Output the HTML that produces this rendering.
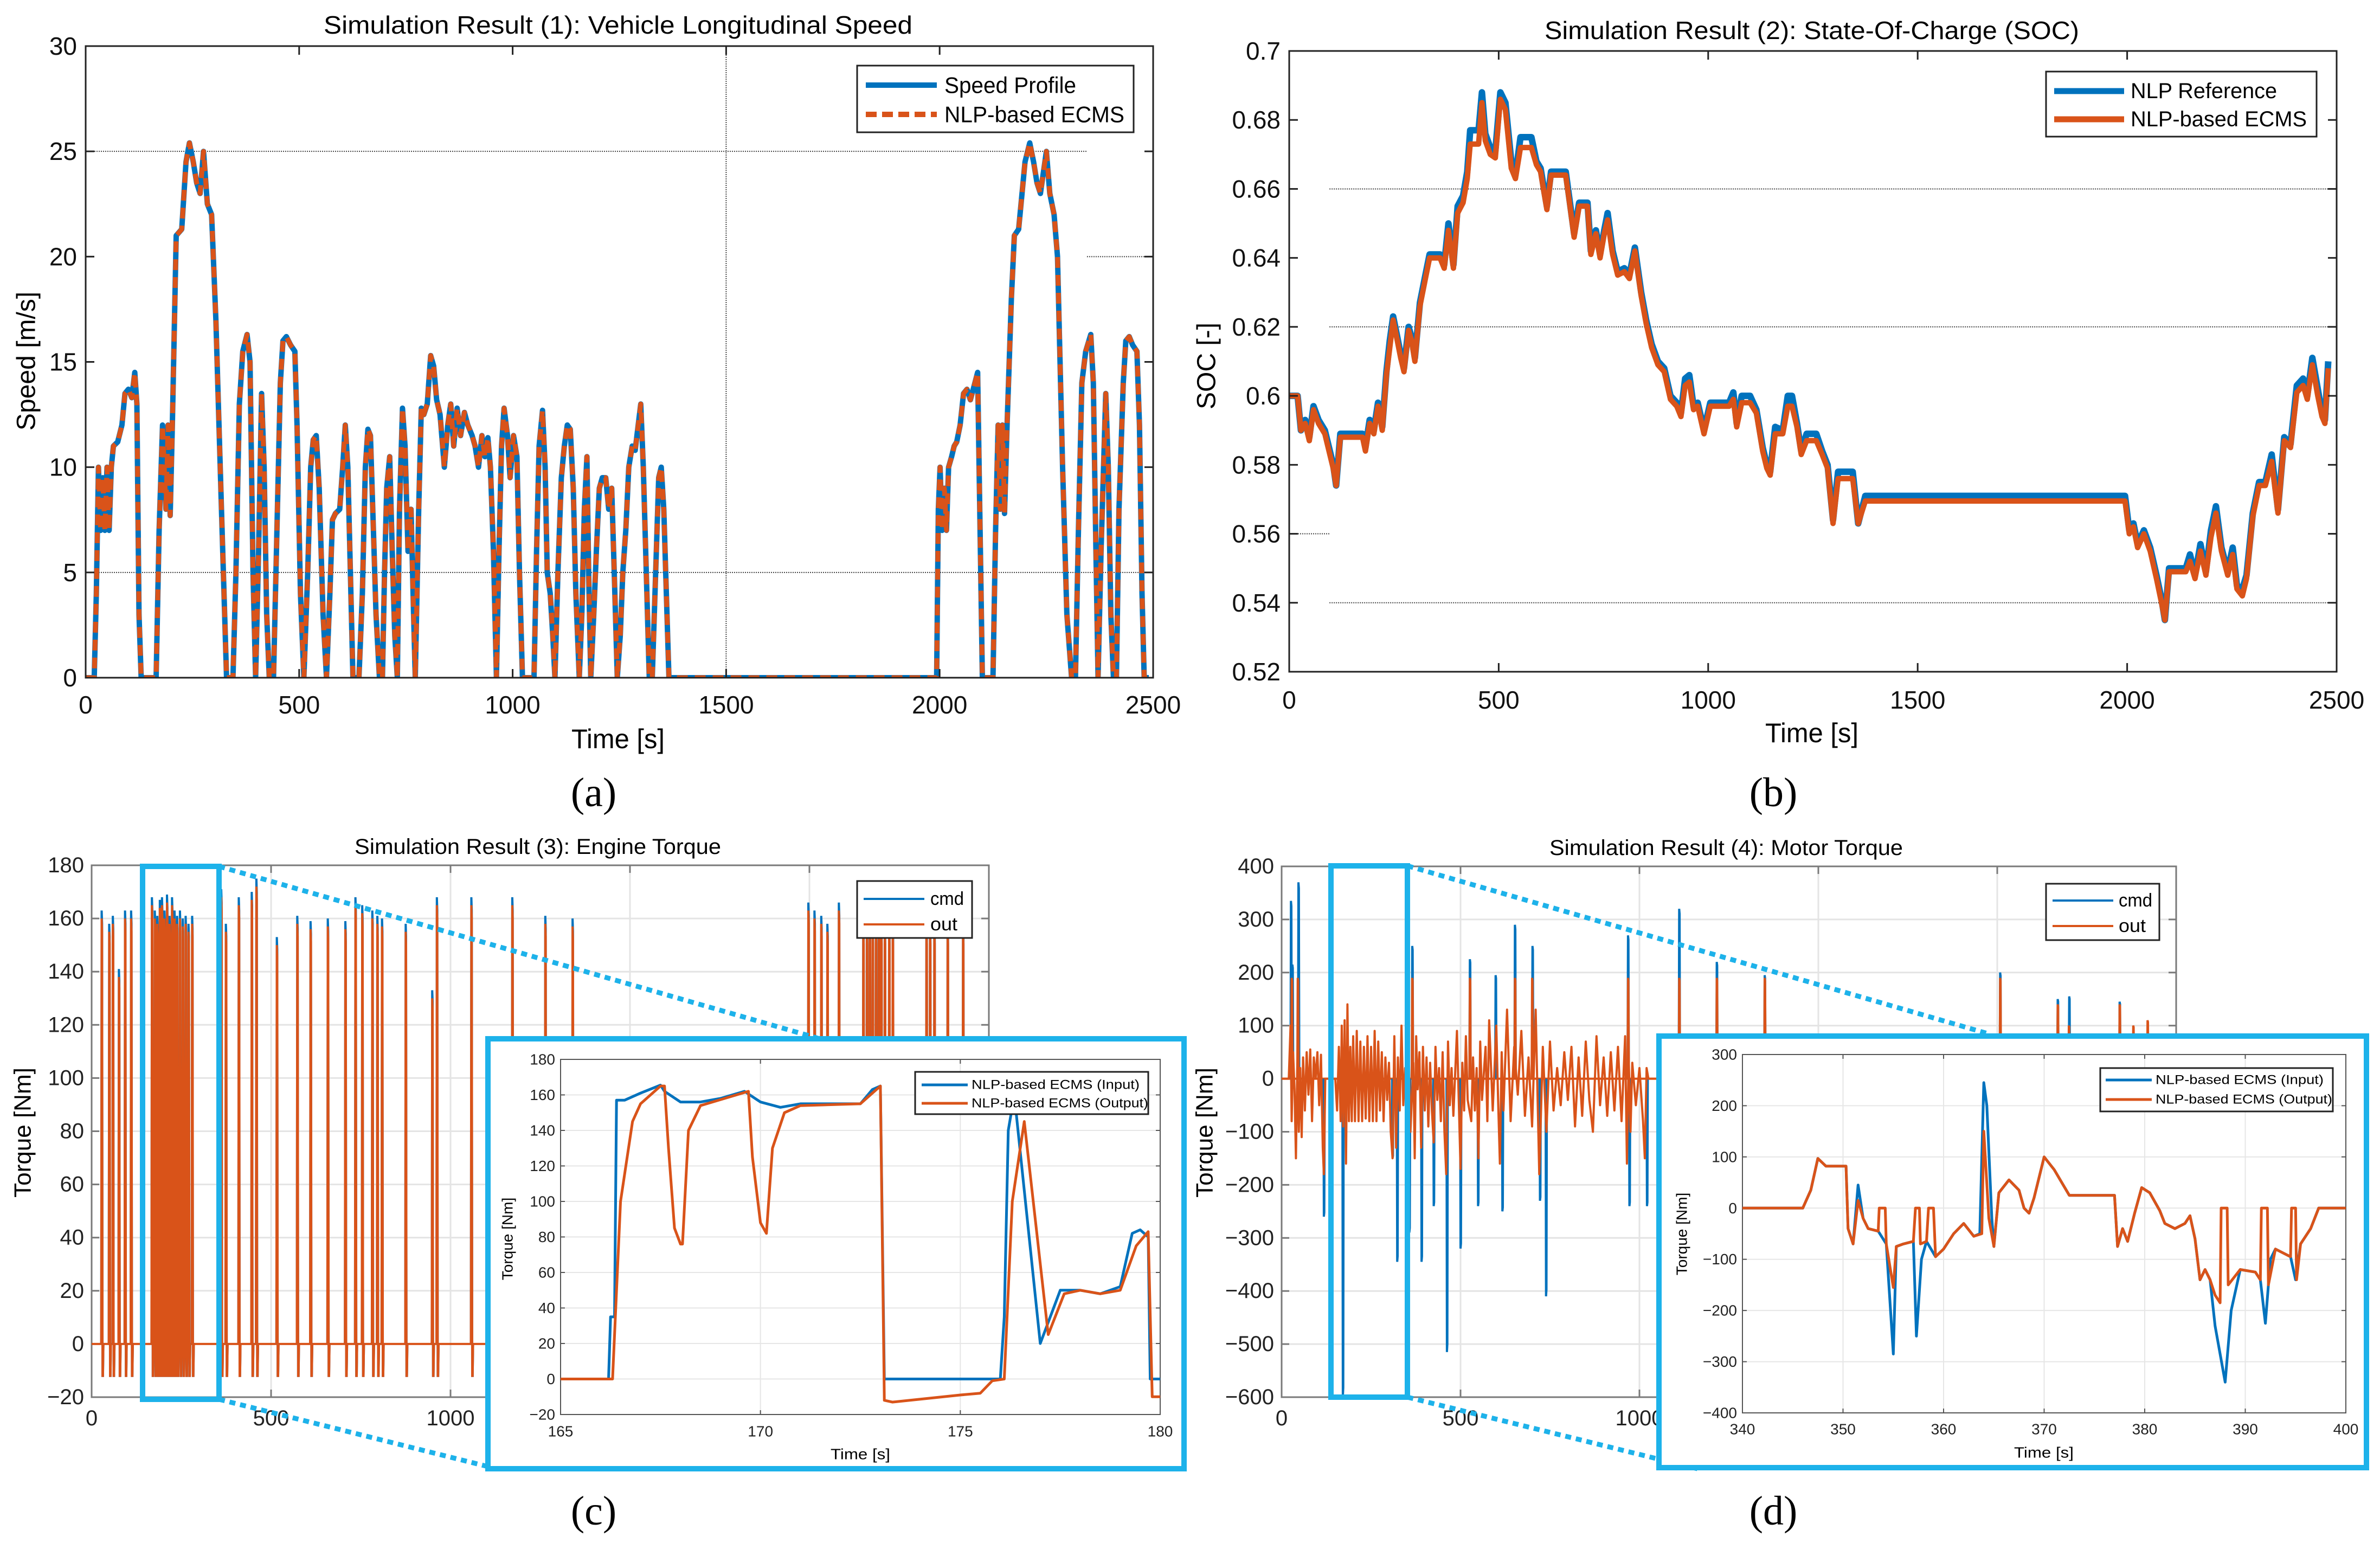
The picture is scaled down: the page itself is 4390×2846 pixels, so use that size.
<!DOCTYPE html>
<html><head><meta charset="utf-8"><title>Simulation results</title>
<style>
html,body{margin:0;padding:0;background:#fff;}
svg{display:block;}
text{font-family:"Liberation Sans",sans-serif;}
.serif{font-family:"Liberation Serif",serif;}
</style></head>
<body>
<svg id="fig" xmlns="http://www.w3.org/2000/svg" width="4390" height="2846" viewBox="0 0 4390 2846">
<rect x="0" y="0" width="4390" height="2846" fill="#fff"/>
<defs>
<clipPath id="clipA"><rect x="158" y="85" width="1969" height="1165"/></clipPath>
<clipPath id="clipB"><rect x="2378" y="94" width="1932" height="1145"/></clipPath>
<clipPath id="clipC"><rect x="169" y="1596" width="1655" height="981"/></clipPath>
<clipPath id="clipD"><rect x="2364" y="1598" width="1650" height="979"/></clipPath>
<clipPath id="clipCi"><rect x="1034" y="1954" width="1106" height="655"/></clipPath>
<clipPath id="clipDi"><rect x="3214" y="1945" width="1113" height="661"/></clipPath>
</defs>
</svg>
<script>
// ===== Panel (a): vehicle speed =====
const speedT=[0,20,25,30,35,40,45,50,55,60,
65,75,85,92,100,108,115,120,125,130,
165,172,180,188,193,198,203,212,225,235,
243,252,260,268,276,285,295,305,318,330,
345,352,360,368,378,385,392,398,405,412,
418,424,430,440,448,456,462,470,480,490,
495,503,511,520,527,533,540,547,556,564,
572,578,585,595,602,608,614,620,626,640,
648,655,661,667,674,680,688,695,700,705,
712,718,724,730,735,742,748,755,762,768,
772,780,786,792,800,808,815,822,830,840,
848,855,862,870,878,887,895,905,912,920,
928,935,942,948,955,962,968,974,980,988,
994,1002,1010,1016,1023,1050,1056,1062,1070,1076,
1081,1088,1094,1099,1106,1114,1121,1128,1135,1142,
1148,1156,1162,1168,1174,1178,1183,1190,1196,1203,
1210,1218,1225,1232,1238,1245,1252,1258,1265,1272,
1280,1287,1294,1300,1306,1313,1320,1327,1335,1342,
1348,1354,1360,1366,1993,1997,2001,2006,2011,2016,
2021,2028,2034,2040,2048,2056,2064,2072,2080,2089,
2094,2100,2125,2131,2137,2142,2147,2152,2158,2168,
2175,2185,2200,2211,2220,2228,2236,2250,2258,2268,
2276,2288,2298,2309,2318,2325,2333,2342,2354,2360,
2366,2371,2378,2389,2395,2401,2407,2414,2420,2430,
2436,2444,2452,2462,2468,2474,2479,2490];
const speedV=[0,0,4,10,7,9.5,7,10,7,10,
11,11.2,12,13.5,13.7,13.3,14.5,13,3,0,
0,7,12,8,12,7.7,12,21,21.3,24.5,
25.4,24.5,23.5,23,25,22.5,22,17,8,0,
0,5,13,15.5,16.3,15,5,0,6,13.5,
10,3,0,0,7,14,16,16.2,15.8,15.5,
12,4,0,5,10,11.3,11.5,9,3,0,
4,7.5,7.8,8,10,12,10,5,0,0,
4,10,11.8,11.5,7,3,0,0,5,9,
10.5,6,2,0,8,12.8,11,6,8,3,
0,8,12.8,12.5,13,15.3,14.8,13.2,12.5,10,
12,13,11,12.8,11.5,12.6,12,11.5,11,10,
11.5,10.5,11.4,10,6,0,6,11,12.8,11.5,
9.5,11.5,10.5,5,0,0,6,11,12.7,10,
5,4,2,0,5,9.5,11,12,11.8,9,
4,0,3,8,10.5,5,0,3,6,9,
9.5,9.5,8,9,5,0,2,5,7,10,
11,10.8,12,13,10,5,0,0,5,9.5,
10,8,4,0,0,8,10,7,9,7,
10,10.5,11,11.2,12,13.5,13.7,13.2,13.8,14.5,
8,0,0,7,12,8,12,7.8,12,18,
21,21.3,24.5,25.4,24.5,23.5,23,25,23,22,
20,10,3,0,0,7,14,15.5,16.3,14,
6,0,6,13.5,10,3,0,0,8,14,
16,16.2,15.8,15.5,12,4,0,0];
const ecmsSpeedV=speedV.slice();
const speedXTicks=[0,500,1000,1500,2000,2500];
const speedYTicks=[0,5,10,15,20,25,30];

// ===== Panel (b): SOC =====
const socT=[0,20,28,38,48,58,70,85,95,105,
112,122,150,175,182,192,202,212,222,232,
240,248,258,266,274,285,292,300,312,325,
335,360,370,380,392,402,415,425,432,452,
460,468,480,492,504,516,530,540,552,578,
590,600,608,615,625,660,670,680,692,712,
720,732,742,752,760,772,784,800,812,825,
840,852,865,880,895,910,925,935,945,955,
965,975,990,1005,1050,1060,1068,1080,1100,1115,
1130,1140,1148,1160,1178,1190,1200,1212,1222,1235,
1258,1272,1285,1298,1310,1345,1358,1375,1995,2005,
2015,2025,2040,2055,2070,2082,2090,2100,2140,2150,
2162,2175,2188,2200,2212,2225,2240,2252,2262,2275,
2285,2300,2315,2330,2345,2360,2375,2390,2405,2420,
2430,2442,2455,2465,2472,2480];
const socRefV=[.600,.600,.590,.593,.588,.597,.593,.590,.585,.580,
.574,.589,.589,.589,.585,.593,.590,.598,.591,.607,
.616,.623,.617,.612,.608,.620,.617,.611,.627,.635,
.641,.641,.638,.650,.638,.655,.658,.665,.677,.677,
.688,.676,.672,.671,.688,.685,.668,.664,.675,.675,
.668,.666,.660,.655,.665,.665,.656,.647,.656,.656,
.642,.648,.641,.648,.653,.642,.636,.637,.635,.643,
.630,.622,.615,.610,.608,.600,.598,.595,.605,.606,
.597,.598,.590,.598,.598,.601,.592,.600,.600,.596,
.585,.580,.578,.591,.590,.600,.600,.592,.584,.589,
.589,.584,.580,.564,.578,.578,.563,.571,.571,.561,
.563,.557,.561,.556,.548,.541,.535,.550,.550,.554,
.548,.557,.549,.561,.568,.556,.549,.556,.545,.544,
.548,.566,.575,.575,.583,.567,.588,.586,.603,.605,
.600,.611,.602,.595,.593,.610];
const socEcmsV=[.600,.600,.590,.592,.587,.596,.592,.589,.584,.579,
.574,.588,.588,.588,.584,.592,.589,.597,.590,.606,
.614,.622,.616,.611,.607,.619,.616,.610,.626,.634,
.640,.640,.637,.648,.637,.653,.656,.663,.673,.673,
.685,.674,.670,.669,.686,.683,.666,.663,.672,.672,
.667,.665,.659,.654,.664,.664,.655,.646,.655,.655,
.641,.647,.640,.647,.651,.641,.635,.636,.634,.642,
.629,.621,.614,.609,.607,.599,.597,.594,.603,.604,
.596,.597,.589,.597,.597,.599,.591,.598,.598,.595,
.584,.579,.577,.589,.589,.597,.597,.591,.583,.587,
.587,.583,.579,.563,.576,.576,.563,.5695,.5695,.560,
.562,.556,.560,.555,.547,.540,.535,.549,.549,.552,
.547,.555,.548,.559,.566,.555,.548,.554,.544,.542,
.547,.565,.574,.574,.581,.566,.587,.585,.601,.603,
.599,.609,.600,.594,.592,.608];
const socXTicks=[0,500,1000,1500,2000,2500];
const socYTicks=[0.52,0.54,0.56,0.58,0.6,0.62,0.64,0.66,0.68,0.7];
const socYLabels=["0.52","0.54","0.56","0.58","0.6","0.62","0.64","0.66","0.68","0.7"];

// ===== Panel (c): engine torque =====
const engSpikeT=[28,49,59,76,93,110,168,176,183,190,196,203,210,217,224,231,238,246,254,262,270,280,361,374,410,446,459,516,573,610,658,707,735,754,782,796,809,875,949,962,1058,1172,1264,1340,1997,2014,2033,2050,2082,2150,2160,2168,2176,2185,2193,2200,2210,2222,2232,2326,2336,2348,2385,2428];
const engSpikeH=[160,155,158,138,160,160,165,160,158,164,165,160,166,158,165,160,158,160,157,158,155,158,168,155,165,167,172,150,158,156,157,156,165,162,160,158,157,155,130,165,165,165,158,157,163,160,158,155,163,155,155,155,155,155,155,155,155,155,155,155,155,155,155,155];
const engXTicks=[0,500,1000,1500,2000,2500];
const engYTicks=[-20,0,20,40,60,80,100,120,140,160,180];
const engInT=[165,166.2,166.25,166.35,166.4,166.6,167,167.5,167.6,168,168.5,169,169.6,170,170.5,171,172,172.5,172.8,173,173.1,176,176.1,176.2,176.35,177,177.5,178,178.5,179,179.3,179.5,179.7,179.75,180];
const engInV=[0,0,35,35,157,157,161,165.5,162,156,156,158,162,156,153,155,155,155,163,165,0,0,35,140,160,20,50,50,48,52,82,84,80,0,0];
const engOutT=[165,166.3,166.5,166.8,167,167.5,167.6,167.7,167.85,168,168.05,168.2,168.5,169.7,169.8,170,170.15,170.3,170.6,171,172.5,173,173.1,173.3,175,175.5,175.8,176.1,176.3,176.6,177.2,177.6,178,178.5,179,179.4,179.7,179.8,180];
const engOutV=[0,0,100,145,155,165,165,130,85,76,76,140,154,162,125,88,82,130,150,154,155,165,-12,-13,-9,-8,-1,0,100,145,25,48,50,48,50,75,83,-10,-10];
const engInsetXTicks=[165,170,175,180];
const engInsetYTicks=[-20,0,20,40,60,80,100,120,140,160,180];

// ===== Panel (d): motor torque =====
const motorT=[0,20,25,28,32,36,40,44,48,52,56,60,65,70,75,80,85,90,95,100,105,110,115,118,122,130,150,155,160,165,168,172,176,180,184,188,192,196,200,205,210,215,220,225,230,235,240,245,250,255,260,265,270,275,280,285,290,295,300,305,310,315,320,325,330,335,340,345,350,355,360,368,372,376,380,385,390,395,400,405,410,415,420,425,430,435,440,445,450,455,460,465,470,475,480,490,495,500,505,510,515,520,530,535,540,545,550,555,560,570,575,580,590,600,605,610,615,620,630,640,650,660,670,680,690,700,710,720,730,740,750,760,770,780,790,800,810,820,830,840,850,860,870,880,890,900,910,920,930,940,950,960,965,970,975,980,990,1000,1010,1015,1020,1025,1060];
const motorV=[0,0,100,-80,50,-20,-150,30,-100,20,-110,40,-60,50,-30,55,-80,40,0,50,-50,45,-130,-180,0,0,0,-60,60,-80,100,-90,110,-160,140,-80,60,-80,80,-80,90,-80,70,-80,60,-75,80,-80,60,-80,90,-80,70,-60,50,-80,40,-40,30,-100,-150,80,-130,40,-60,100,-50,20,-80,60,-100,30,-150,80,-20,50,-130,60,-60,40,-90,30,-60,-120,60,-40,20,-80,50,-100,-180,70,-50,20,-70,90,-40,-170,30,-60,80,-40,-80,40,-60,20,-150,70,-40,60,-80,110,-60,100,-40,-160,50,-60,130,-80,60,-30,90,-70,40,-90,130,-180,60,-100,70,-60,20,-50,50,-40,60,-90,40,-70,70,-40,-100,80,-50,40,-70,50,-60,60,-80,80,-160,40,-100,30,-50,20,-80,-150,20,0,0];
const motorOutSpikeT=[28,45,365,526,652,700,968,1111,1216,1350,2008,2169,2200,2342,2380,2420];
const motorOutSpikeV=[190,190,190,190,190,190,190,190,190,190,190,140,100,140,100,110];
const motorCmdSpikeT=[26,30,47,118,171,310,323,357,365,391,425,462,500,526,549,598,617,652,701,722,739,968,972,1021,1111,1216,1350,2008,2169,2201,2342];
const motorCmdSpikeV=[335,215,370,-260,-600,-150,-345,-290,250,-345,-240,-515,-320,225,-240,195,-250,290,250,-230,-410,270,-240,-240,320,220,195,200,150,155,145];
const motorXTicks=[0,500,1000,1500,2000,2500];
const motorYTicks=[-600,-500,-400,-300,-200,-100,0,100,200,300,400];
const motInOutT=[340,346,346.8,347.5,348.3,350.3,350.5,351,351.5,352,352.5,353.5,353.6,354.2,354.3,355,355.3,356,357,357.2,357.6,357.7,358.3,358.5,359,359.2,360,361,362,363,363.8,364,364.5,365,365.5,366.5,367.5,368,368.5,369,370,371,372.5,377,377.3,377.8,378.3,379,379.7,380.5,381.5,382,383,384,384.5,385,385.5,386,386.5,387,387.5,387.6,388.2,388.3,389.5,391,391.5,391.6,392.2,392.3,393,394,394.5,394.6,395,395.1,395.5,396.5,397.3,400];
const motOutV=[0,0,35,97,82,82,-40,-70,15,-20,-40,-45,0,0,-70,-155,-75,-70,-65,0,0,-70,-65,0,0,-95,-80,-50,-30,-55,-50,150,-20,-75,30,55,35,0,-10,20,100,75,25,25,-75,-40,-65,-10,40,30,-5,-30,-40,-30,-15,-60,-140,-120,-140,-170,-185,0,0,-150,-120,-125,-140,0,0,-150,-80,-90,-95,0,0,-140,-70,-40,0,0];
const motInT=[340,346,346.8,347.5,348.3,350.3,350.5,351,351.5,352,352.5,353.5,354.3,355,355.3,356,357,357.3,357.8,358.3,359.2,360,361,362,363,363.6,364,364.3,364.8,365,365.5,366.5,367.5,368,368.5,369,370,371,372.5,377,377.3,377.8,378.3,379,379.7,380.5,381.5,382,383,384,384.5,385,385.5,386,386.5,387,388,388.6,389.5,391,391.5,392,392.5,393,394,394.5,395,395.5,396.5,397.3,400];
const motInV=[0,0,35,97,82,82,-40,-70,45,-20,-40,-45,-70,-285,-75,-70,-65,-250,-100,-65,-95,-80,-50,-30,-55,-50,245,200,-20,-75,30,55,35,0,-10,20,100,75,25,25,-75,-40,-65,-10,40,30,-5,-30,-40,-30,-15,-60,-140,-120,-140,-230,-340,-200,-120,-125,-140,-225,-100,-80,-90,-95,-140,-70,-40,0,0];
const motInsetXTicks=[340,350,360,370,380,390,400];
const motInsetYTicks=[-400,-300,-200,-100,0,100,200,300];

// ===== drawing =====
const NS='http://www.w3.org/2000/svg';
const svg=document.getElementById('fig');
const BLUE='#0072BD', ORANGE='#D95319', CYAN='#1DB2EA';
function mk(tag,attrs,parent){const e=document.createElementNS(NS,tag);for(const k in attrs)e.setAttribute(k,attrs[k]);(parent||svg).appendChild(e);return e;}
function makeAxis(x0,x1,y0,y1,xmin,xmax,ymin,ymax){return {x0,x1,y0,y1,px:t=>x0+(t-xmin)/(xmax-xmin)*(x1-x0),py:v=>y1-(v-ymin)/(ymax-ymin)*(y1-y0)};}
function txt(x,y,s,size,anchor,nm,extra){
  const t=mk('text',Object.assign({x:x,y:y,'font-size':size,'text-anchor':anchor||'middle','dominant-baseline':'central',fill:'#000'},extra||{}));
  t.textContent=s;
  
  
  return t;
}
function seg(x1,y1,x2,y2,style,nm){
  const l=mk('line',Object.assign({x1,y1,x2,y2},style));
  
  
  return l;
}
function pathFrom(ax,ts,vs,style,nm,clip){
  let d='';
  for(let i=0;i<ts.length;i++){d+=(i?'L':'M')+ax.px(ts[i]).toFixed(1)+' '+ax.py(vs[i]).toFixed(1);}
  const p=mk('path',Object.assign({d:d,fill:'none','stroke-linejoin':'round','clip-path':'url(#'+clip+')'},style));
  
  
  return p;
}
function spikes(ax,ts,vs,w,style,nm,clip,neg){
  let d='';
  for(let i=0;i<ts.length;i++){
    const t=ts[i];
    d+='M'+ax.px(t-w).toFixed(1)+' '+ax.py(0).toFixed(1)+'L'+ax.px(t).toFixed(1)+' '+ax.py(vs[i]).toFixed(1)+'L'+ax.px(t+w).toFixed(1)+' '+ax.py(vs[i]*0.97).toFixed(1);
    if(neg!==undefined){d+='L'+ax.px(t+2*w).toFixed(1)+' '+ax.py(neg).toFixed(1)+'L'+ax.px(t+3*w).toFixed(1)+' '+ax.py(neg).toFixed(1)+'L'+ax.px(t+4*w).toFixed(1)+' '+ax.py(0).toFixed(1);}
    else{d+='L'+ax.px(t+2*w).toFixed(1)+' '+ax.py(0).toFixed(1);}
  }
  const p=mk('path',Object.assign({d:d,fill:'none','clip-path':'url(#'+clip+')'},style));
  
  
  return p;
}
function axesBox(ax,xt,yt,opt){
  const pre=opt.pre;
  if(opt.grid){
    for(const v of yt){seg(ax.x0,ax.py(v),ax.x1,ax.py(v),{stroke:opt.gridColor,'stroke-width':opt.gw},pre+'-grid-y');}
    for(const v of xt){seg(ax.px(v),ax.y0,ax.px(v),ax.y1,{stroke:opt.gridColor,'stroke-width':opt.gw},pre+'-grid-x');}
  }
  const r=mk('rect',{x:ax.x0,y:ax.y0,width:ax.x1-ax.x0,height:ax.y1-ax.y0,fill:'none',stroke:opt.box,'stroke-width':opt.bw});
  
  
  const L=opt.tl;
  yt.forEach((v,i)=>{
    const y=ax.py(v);
    seg(ax.x0,y,ax.x0+L,y,{stroke:opt.box,'stroke-width':opt.bw},pre+'-ytick');
    seg(ax.x1,y,ax.x1-L,y,{stroke:opt.box,'stroke-width':opt.bw},pre+'-ytick-right');
    const lab=opt.ylabels?opt.ylabels[i]:(v<0?'\u2212'+Math.abs(v):String(v));
    txt(ax.x0-opt.ypad,y,lab,opt.fs,'end',pre+'-ytick-label',{fill:opt.tc});
  });
  xt.forEach(v=>{
    const x=ax.px(v);
    seg(x,ax.y1,x,ax.y1-L,{stroke:opt.box,'stroke-width':opt.bw},pre+'-xtick');
    seg(x,ax.y0,x,ax.y0+L,{stroke:opt.box,'stroke-width':opt.bw},pre+'-xtick-top');
    txt(x,opt.xly,String(v),opt.fs,'middle',pre+'-xtick-label',{fill:opt.tc});
  });
}
function legendBox(x,y,w,h,rows,fs,lw,nm,sx,tx){
  const r=mk('rect',{x,y,width:w,height:h,fill:'#fff',stroke:'#222','stroke-width':3});
  
  
  rows.forEach(row=>{
    const l=seg(sx[0],row.y,sx[1],row.y,{stroke:row.c,'stroke-width':lw},nm+'-swatch');
    if(row.dash)l.setAttribute('stroke-dasharray',row.dash);
    txt(tx,row.y,row.label,fs,'start',nm+'-label',{textLength:row.tl,lengthAdjust:'spacingAndGlyphs'});
  });
}

// ---- (a)
const axA=makeAxis(158,2127,85,1250,0,2500,0,30);
seg(axA.x0,axA.py(25),axA.px(2345),axA.py(25),{stroke:'#444','stroke-width':2,'stroke-dasharray':'2 2'},'speed-grid-25');
seg(axA.px(2345),axA.py(20),axA.x1,axA.py(20),{stroke:'#444','stroke-width':2,'stroke-dasharray':'2 2'},'speed-grid-20');
seg(axA.x0,axA.py(5),axA.x1,axA.py(5),{stroke:'#444','stroke-width':2,'stroke-dasharray':'2 2'},'speed-grid-5');
seg(axA.px(1500),axA.y0,axA.px(1500),axA.y1,{stroke:'#444','stroke-width':2,'stroke-dasharray':'2 2'},'speed-grid-1500');
pathFrom(axA,speedT,speedV,{stroke:BLUE,'stroke-width':10},'speed-profile-line','clipA');
pathFrom(axA,speedT,ecmsSpeedV,{stroke:ORANGE,'stroke-width':9,'stroke-dasharray':'20 13'},'speed-ecms-line','clipA');
axesBox(axA,speedXTicks,speedYTicks,{pre:'speed',box:'#222',bw:3,tl:16,fs:46,ypad:16,xly:1300,tc:'#111'});
txt(1140,46,'Simulation Result (1): Vehicle Longitudinal Speed',46,'middle','speed-title',{textLength:1086,lengthAdjust:'spacingAndGlyphs'});
txt(1140,1363,'Time [s]',50,'middle','speed-x-axis-title',{textLength:172,lengthAdjust:'spacingAndGlyphs'});
txt(49,666,'Speed [m/s]',48,'middle','speed-y-axis-title',{transform:'rotate(-90 49 666)'});
legendBox(1581,121,510,123,[{y:157,c:BLUE,label:'Speed Profile',tl:243},{y:211,c:ORANGE,label:'NLP-based ECMS',tl:332,dash:'20 10'}],42,10,'speed-legend',[1597,1728],1742);
txt(1095,1462,'(a)',76,'middle','caption-a',{class:'serif'});

// ---- (b)
const axB=makeAxis(2378,4310,94,1239,0,2500,0.52,0.70);
[0.66,0.62,0.54].forEach(v=>{seg(axB.px(96),axB.py(v),axB.x1,axB.py(v),{stroke:'#444','stroke-width':2,'stroke-dasharray':'2 2'},'soc-grid-line');});
seg(axB.x0,axB.py(0.56),axB.px(96),axB.py(0.56),{stroke:'#444','stroke-width':2,'stroke-dasharray':'2 2'},'soc-grid-056');
pathFrom(axB,socT,socRefV,{stroke:BLUE,'stroke-width':12},'soc-reference-line','clipB');
pathFrom(axB,socT,socEcmsV,{stroke:ORANGE,'stroke-width':10},'soc-ecms-line','clipB');
axesBox(axB,socXTicks,socYTicks,{pre:'soc',box:'#222',bw:3,tl:16,fs:46,ypad:16,xly:1291,tc:'#111',ylabels:socYLabels});
txt(3342,56,'Simulation Result (2): State-Of-Charge (SOC)',46,'middle','soc-title',{textLength:986,lengthAdjust:'spacingAndGlyphs'});
txt(3342,1352,'Time [s]',50,'middle','soc-x-axis-title',{textLength:172,lengthAdjust:'spacingAndGlyphs'});
txt(2226,675,'SOC [-]',48,'middle','soc-y-axis-title',{transform:'rotate(-90 2226 675)'});
legendBox(3774,132,499,120,[{y:168,c:BLUE,label:'NLP Reference',tl:270},{y:220,c:ORANGE,label:'NLP-based ECMS',tl:325}],40,11,'soc-legend',[3789,3918],3930);
txt(3271,1462,'(b)',76,'middle','caption-b',{class:'serif'});

// ---- (c)
const axC=makeAxis(169,1824,1596,2577,0,2500,-20,180);
axesBox(axC,engXTicks,engYTicks,{pre:'engine',box:'#7a7a7a',bw:3,tl:14,fs:40,ypad:14,xly:2616,tc:'#222',grid:true,gridColor:'#e4e4e4',gw:3});
seg(axC.x0,axC.py(0),axC.x1,axC.py(0),{stroke:ORANGE,'stroke-width':4,'clip-path':'url(#clipC)'},'engine-zero-line');
spikes(axC,engSpikeT,engSpikeH.map(h=>h+3),1.2,{stroke:BLUE,'stroke-width':4},'engine-cmd-line','clipC',-12);
spikes(axC,engSpikeT,engSpikeH,1.2,{stroke:ORANGE,'stroke-width':4},'engine-out-line','clipC',-12);
txt(992,1562,'Simulation Result (3): Engine Torque',40,'middle','engine-title',{textLength:676,lengthAdjust:'spacingAndGlyphs'});
txt(42,2089,'Torque [Nm]',44,'middle','engine-y-axis-title',{transform:'rotate(-90 42 2089)'});
legendBox(1581,1625,212,105,[{y:1658,c:BLUE,label:'cmd',tl:62},{y:1705,c:ORANGE,label:'out',tl:50}],34,4,'engine-legend',[1593,1705],1716);
let zr=mk('rect',{x:263,y:1598,width:141,height:983,fill:'none',stroke:CYAN,'stroke-width':10});


seg(404,1598,1512,1916,{stroke:CYAN,'stroke-width':9,'stroke-dasharray':'11 9'},'engine-zoom-connector-top');
seg(404,2581,900,2705,{stroke:CYAN,'stroke-width':9,'stroke-dasharray':'11 9'},'engine-zoom-connector-bottom');
let ib=mk('rect',{x:900,y:1916,width:1284,height:793,fill:'#fff',stroke:CYAN,'stroke-width':10});


const axCi=makeAxis(1034,2140,1954,2609,165,180,-20,180);
axesBox(axCi,engInsetXTicks,engInsetYTicks,{pre:'engine-inset',box:'#555',bw:2,tl:8,fs:28,ypad:10,xly:2640,tc:'#222',grid:true,gridColor:'#e6e6e6',gw:2});
pathFrom(axCi,engInT,engInV,{stroke:BLUE,'stroke-width':5},'engine-inset-input-line','clipCi');
pathFrom(axCi,engOutT,engOutV,{stroke:ORANGE,'stroke-width':5},'engine-inset-output-line','clipCi');
txt(1587,2682,'Time [s]',28,'middle','engine-inset-x-axis-title',{textLength:110,lengthAdjust:'spacingAndGlyphs'});
txt(936,2285,'Torque [Nm]',28,'middle','engine-inset-y-axis-title',{transform:'rotate(-90 936 2285)'});
legendBox(1688,1977,430,78,[{y:2001,c:BLUE,label:'NLP-based ECMS (Input)',tl:310},{y:2035,c:ORANGE,label:'NLP-based ECMS (Output)',tl:326}],24,5,'engine-inset-legend',[1700,1785],1792);
txt(1095,2787,'(c)',76,'middle','caption-c',{class:'serif'});

// ---- (d)
const axD=makeAxis(2364,4014,1598,2577,0,2500,-600,400);
axesBox(axD,motorXTicks,motorYTicks,{pre:'motor',box:'#7a7a7a',bw:3,tl:14,fs:40,ypad:14,xly:2616,tc:'#222',grid:true,gridColor:'#e4e4e4',gw:3});
seg(axD.x0,axD.py(0),axD.x1,axD.py(0),{stroke:ORANGE,'stroke-width':4,'clip-path':'url(#clipD)'},'motor-zero-line');
spikes(axD,motorCmdSpikeT,motorCmdSpikeV,1.2,{stroke:BLUE,'stroke-width':4},'motor-cmd-line','clipD');
pathFrom(axD,motorT,motorV,{stroke:ORANGE,'stroke-width':4},'motor-out-line','clipD');
spikes(axD,motorOutSpikeT,motorOutSpikeV,1.2,{stroke:ORANGE,'stroke-width':4},'motor-out-spikes','clipD');
txt(3184,1564,'Simulation Result (4): Motor Torque',40,'middle','motor-title',{textLength:652,lengthAdjust:'spacingAndGlyphs'});
txt(2222,2089,'Torque [Nm]',44,'middle','motor-y-axis-title',{transform:'rotate(-90 2222 2089)'});
legendBox(3774,1630,209,104,[{y:1661,c:BLUE,label:'cmd',tl:62},{y:1708,c:ORANGE,label:'out',tl:50}],34,4,'motor-legend',[3786,3898],3908);
zr=mk('rect',{x:2455,y:1597,width:141,height:980,fill:'none',stroke:CYAN,'stroke-width':10});


seg(2596,1597,3665,1906,{stroke:CYAN,'stroke-width':9,'stroke-dasharray':'11 9'},'motor-zoom-connector-top');
seg(2596,2577,3131,2709,{stroke:CYAN,'stroke-width':9,'stroke-dasharray':'11 9'},'motor-zoom-connector-bottom');
ib=mk('rect',{x:3060,y:1911,width:1305,height:796,fill:'#fff',stroke:CYAN,'stroke-width':10});


const axDi=makeAxis(3214,4327,1945,2606,340,400,-400,300);
axesBox(axDi,motInsetXTicks,motInsetYTicks,{pre:'motor-inset',box:'#555',bw:2,tl:8,fs:28,ypad:10,xly:2636,tc:'#222',grid:true,gridColor:'#e6e6e6',gw:2});
pathFrom(axDi,motInT,motInV,{stroke:BLUE,'stroke-width':5},'motor-inset-input-line','clipDi');
pathFrom(axDi,motInOutT,motOutV,{stroke:ORANGE,'stroke-width':5},'motor-inset-output-line','clipDi');
txt(3770,2679,'Time [s]',28,'middle','motor-inset-x-axis-title',{textLength:110,lengthAdjust:'spacingAndGlyphs'});
txt(3102,2276,'Torque [Nm]',28,'middle','motor-inset-y-axis-title',{transform:'rotate(-90 3102 2276)'});
legendBox(3874,1970,429,80,[{y:1992,c:BLUE,label:'NLP-based ECMS (Input)',tl:310},{y:2028,c:ORANGE,label:'NLP-based ECMS (Output)',tl:326}],24,5,'motor-inset-legend',[3884,3969],3976);
txt(3271,2787,'(d)',76,'middle','caption-d',{class:'serif'});
</script>
</body></html>
